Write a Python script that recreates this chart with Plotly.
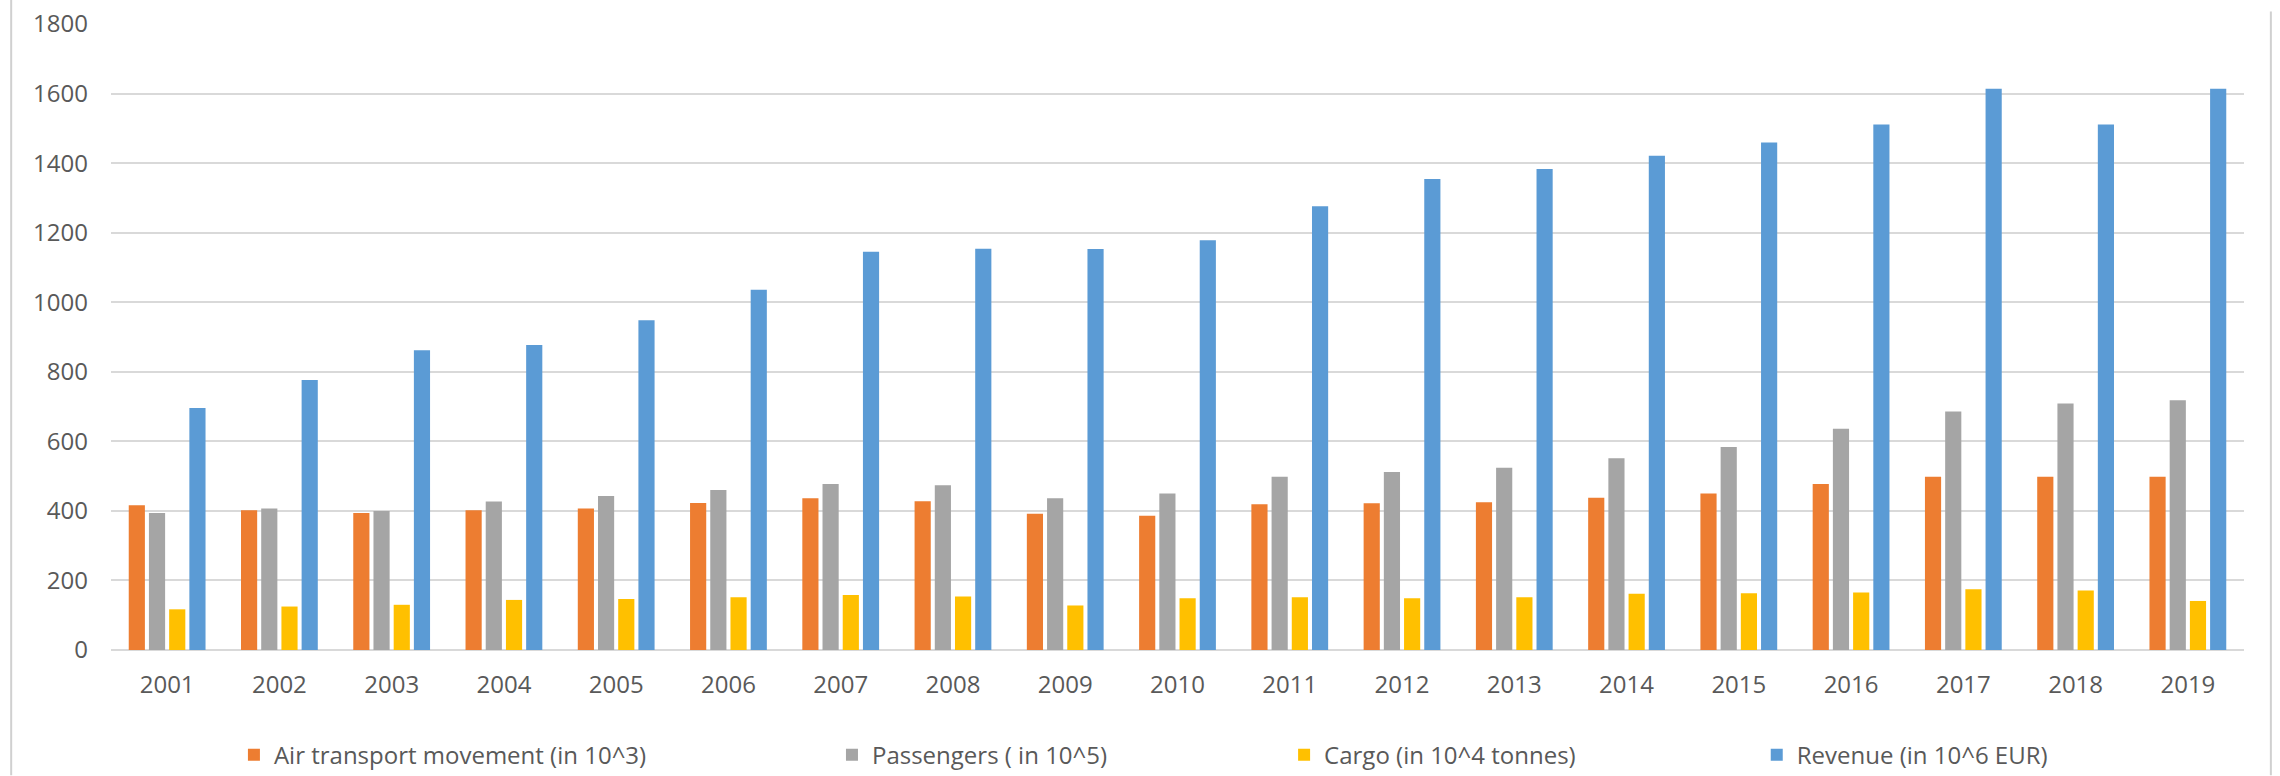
import plotly.graph_objects as go

years = [str(y) for y in range(2001, 2020)]

air_movement = [416, 402, 394, 402, 407, 423, 436, 428, 392, 386, 419, 422, 425, 438, 450, 477, 498, 498, 498]
passengers = [394, 407, 400, 427, 443, 460, 477, 474, 436, 450, 498, 512, 524, 551, 584, 636, 686, 709, 718]
cargo = [117, 125, 130, 144, 147, 152, 158, 154, 128, 149, 152, 149, 152, 162, 163, 165, 175, 171, 141]
revenue = [696, 776, 862, 877, 948, 1036, 1145, 1154, 1153, 1178, 1276, 1354, 1383, 1421, 1459, 1511, 1614, 1511, 1614]

series_names = [
    "Air transport movement (in 10^3)",
    "Passengers ( in 10^5)",
    "Cargo (in 10^4 tonnes)",
    "Revenue (in 10^6 EUR)",
]
series_values = [air_movement, passengers, cargo, revenue]
series_colors = ["#ED7D31", "#A5A5A5", "#FFC000", "#5B9BD5"]
legend_ids = ["legend", "legend2", "legend3", "legend4"]
legend_x = [0.1026, 0.3649, 0.5632, 0.7705]

FONT = "Open Sans, Liberation Sans, sans-serif"
TEXT_COLOR = "#595959"

fig = go.Figure()
for name, vals, col, lid in zip(series_names, series_values, series_colors, legend_ids):
    fig.add_trace(go.Bar(x=years, y=vals, name=name, marker=dict(color=col, line=dict(width=0)),
                         legend=lid, showlegend=True))

legend_common = dict(
    orientation="h",
    xref="container",
    yref="container",
    yanchor="middle",
    y=0.027,
    xanchor="left",
    font=dict(family=FONT, size=24, color=TEXT_COLOR),
    bgcolor="rgba(0,0,0,0)",
    borderwidth=0,
)
legends = {}
for lid, lx in zip(legend_ids, legend_x):
    d = dict(legend_common)
    d["x"] = lx
    legends[lid] = d

fig.update_layout(
    width=2280,
    height=776,
    margin=dict(l=111, r=36, t=24, b=126, autoexpand=False),
    paper_bgcolor="white",
    plot_bgcolor="white",
    showlegend=True,
    barmode="group",
    bargap=0.28,
    bargroupgap=0.2,
    font=dict(family=FONT, size=24, color=TEXT_COLOR),
    xaxis=dict(
        showgrid=False,
        showline=False,
        ticks="",
        tickfont=dict(family=FONT, size=24, color=TEXT_COLOR),
        ticklabelstandoff=18,
    ),
    yaxis=dict(
        range=[0, 1800],
        tickvals=list(range(0, 1801, 200)),
        showgrid=True,
        gridcolor="#D9D9D9",
        gridwidth=1.5,
        zeroline=True,
        zerolinecolor="#D9D9D9",
        zerolinewidth=1.5,
        showline=False,
        ticks="",
        tickfont=dict(family=FONT, size=24, color=TEXT_COLOR),
        ticklabelstandoff=22,
    ),
    shapes=[
        dict(type="line", xref="paper", yref="paper", x0=-0.0468, x1=-0.0468, y0=1.04, y1=-0.2, line=dict(color="#D0D0D0", width=2)),
        dict(type="line", xref="paper", yref="paper", x0=1.0126, x1=1.0126, y0=1.02, y1=-0.2, line=dict(color="#D0D0D0", width=2)),
    ],
    **legends,
)

fig.write_html("out.html")
